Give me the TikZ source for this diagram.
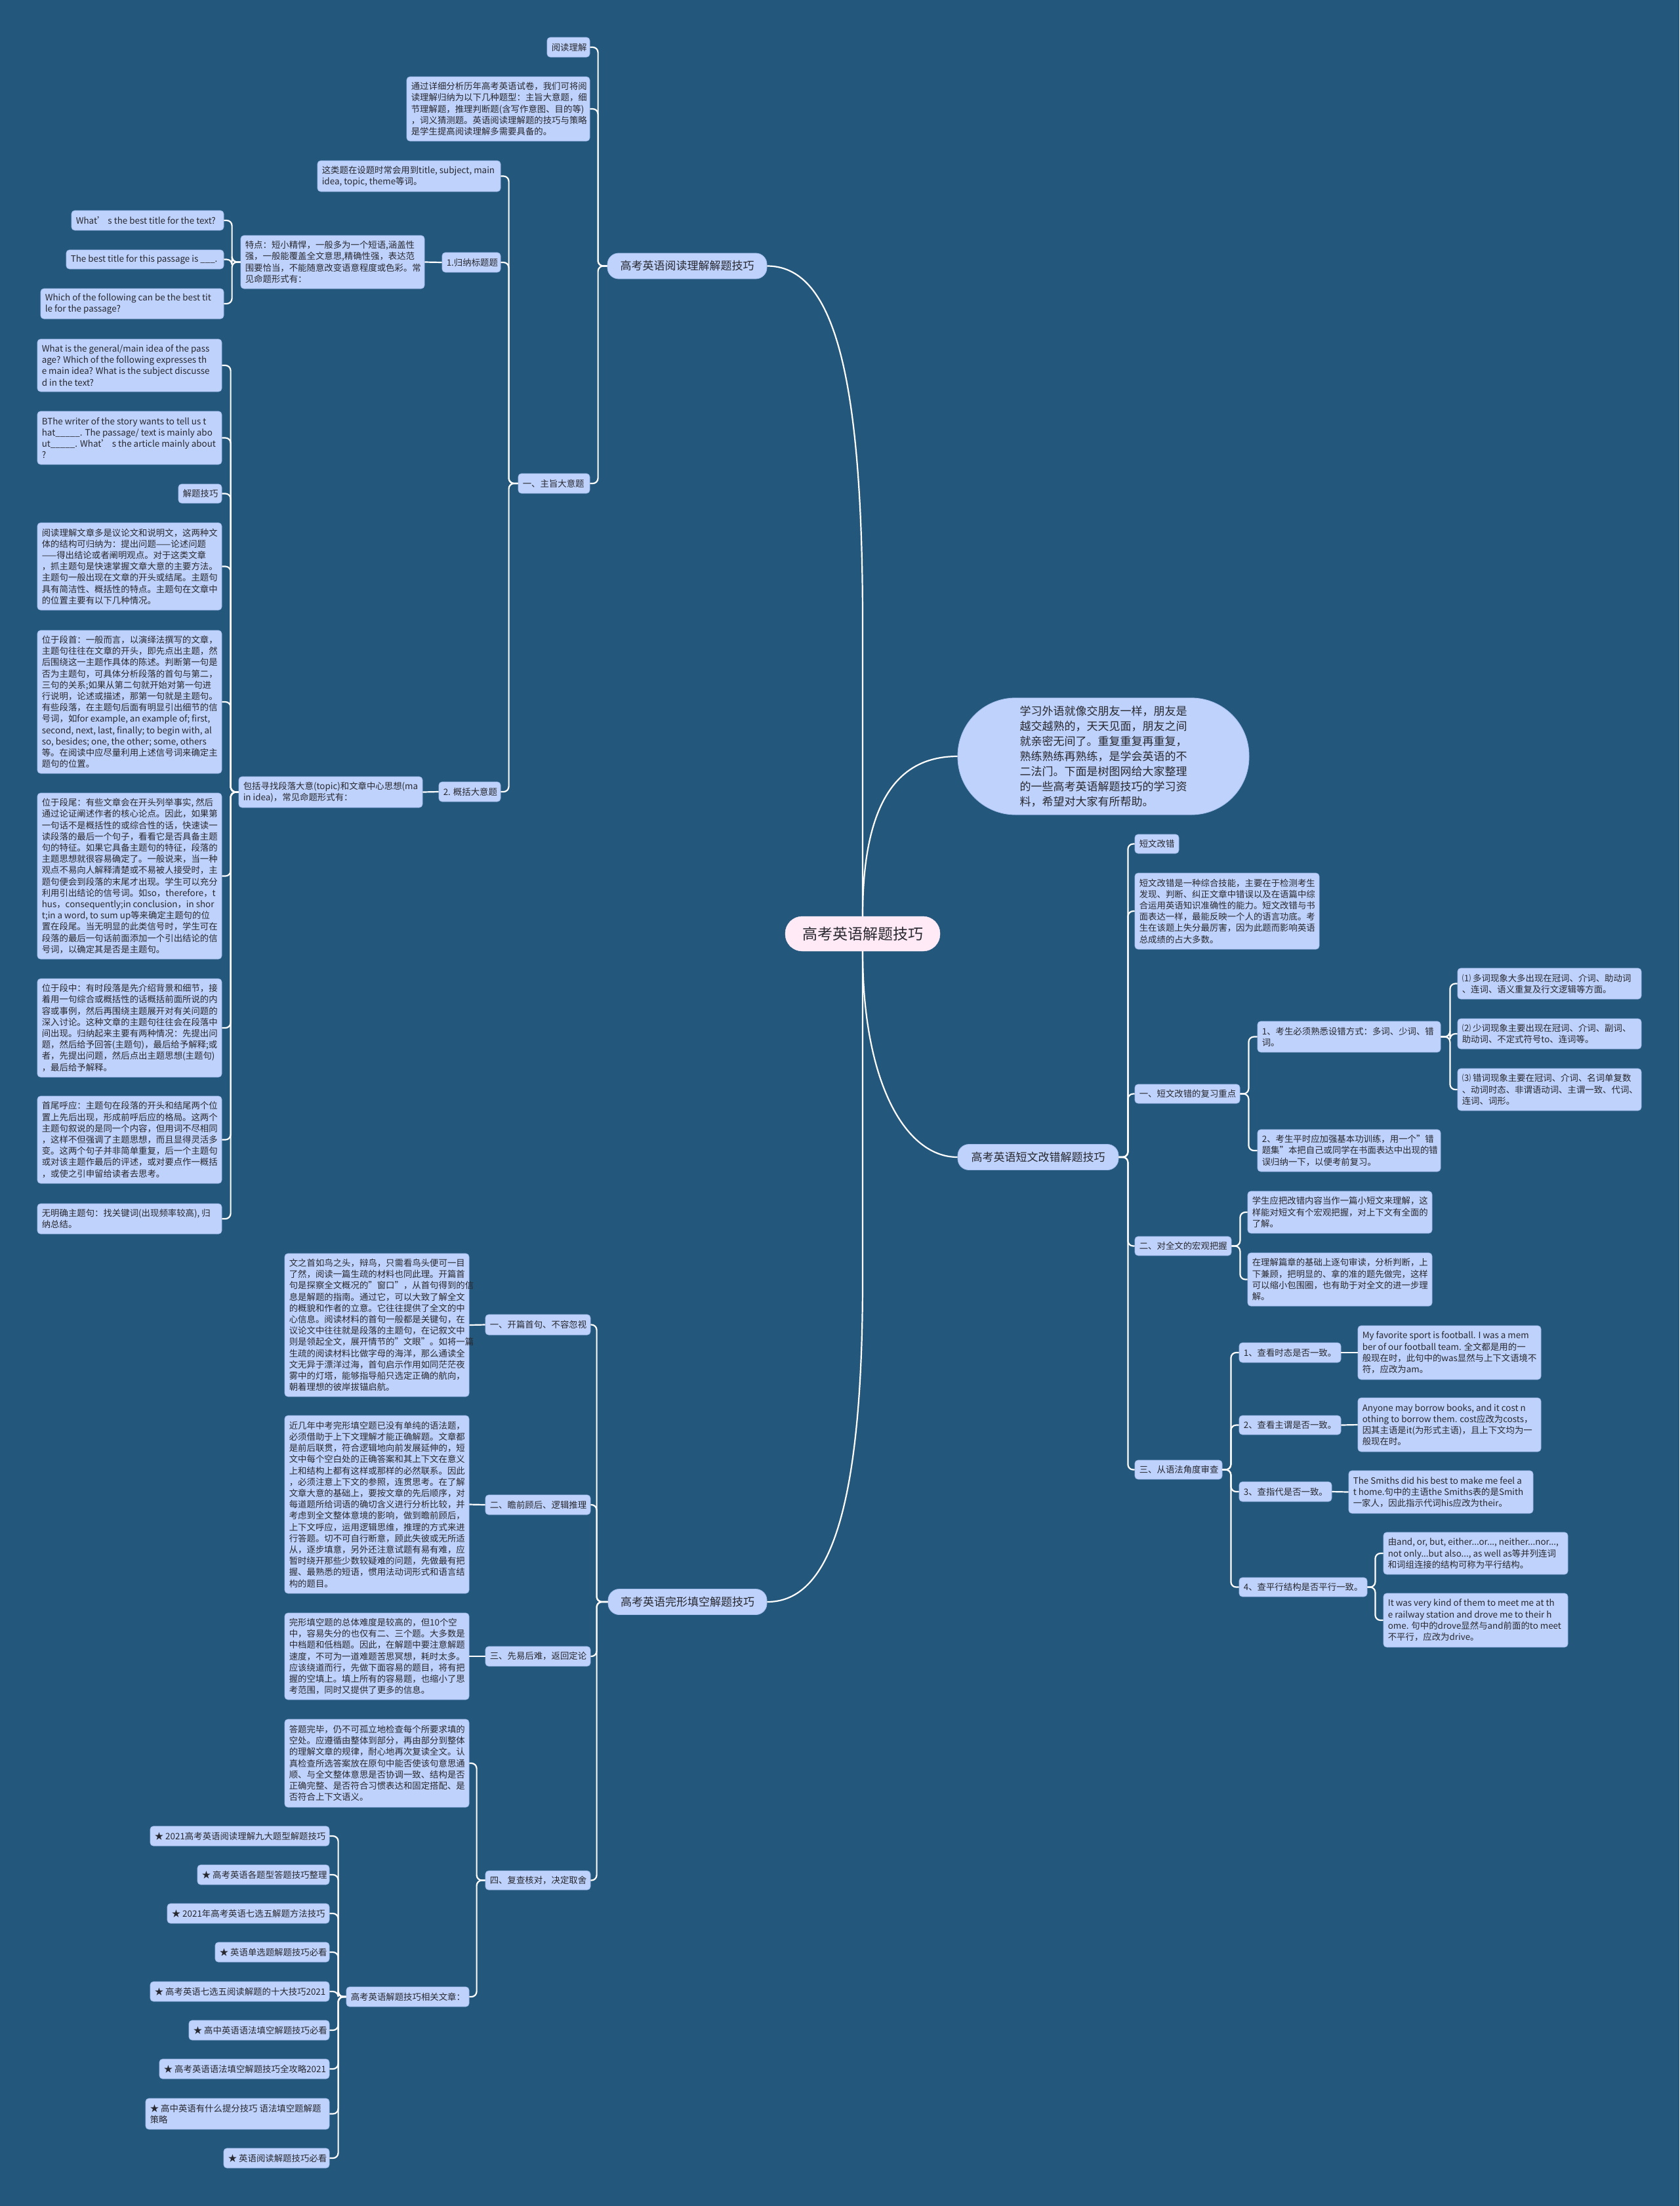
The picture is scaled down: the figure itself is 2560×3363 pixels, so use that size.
\documentclass[tikz,border=0pt]{standalone}
\usepackage{fontspec}
\setmainfont{Noto Sans CJK SC}
\definecolor{bgcol}{RGB}{35,88,124}
\definecolor{boxfill}{RGB}{190,210,251}
\definecolor{boxline}{RGB}{165,190,238}
\definecolor{textcol}{RGB}{40,40,48}
\definecolor{rootfill}{RGB}{255,234,246}
\newcommand\myfs{\fontsize{13.4}{17.2}\selectfont}
\newcommand\myfm{\fontsize{17}{23}\selectfont}
\newcommand\myfl{\fontsize{23}{28}\selectfont}
\tikzset{
  box/.style={draw=boxline,line width=0.8pt,fill=boxfill,rounded corners=5pt,inner sep=0pt},
  txt/.style={inner sep=0pt,align=left,font=\myfs,text=textcol},
  mainnode/.style={draw=boxline,line width=0.8pt,fill=boxfill,rounded corners=17pt,inner sep=0pt,minimum height=39pt,font=\myfm,text=textcol},
  rootnode/.style={draw=rootfill,fill=rootfill,rounded corners=26pt,inner sep=0pt,minimum width=236pt,minimum height=53pt,font=\myfl,text=textcol},
  ellnode/.style={draw=boxline,line width=0.8pt,fill=boxfill,rounded corners=88pt,inner sep=0pt,minimum width=444pt,minimum height=178pt,font=\myfm,text=textcol,align=left},
  conn/.style={draw=white,line width=2.2pt,rounded corners=8pt},
  conn0/.style={draw=white,line width=2.2pt},
}
\newcommand\bx[6]{%
  \node[box,minimum width={#4-#2},minimum height={#5-#3}] (#1) at ({(#2+#4)/2},{(#3+#5)/2}) {};
  \node[txt,anchor=west] (#1-t) at ([xshift=7pt]#1.west) {#6};}
\begin{document}
\begin{tikzpicture}[x=1pt,y=-1pt]
\fill[bgcol] (0,0) rectangle (2560,3363);
\useasboundingbox (0,0) rectangle (2560,3363);

% ---------- root and ellipse
\node[rootnode] (root) at (1315,1423.5) {高考英语解题技巧};
\node[ellnode] (ell) at (1682,1153) {学习外语就像交朋友一样，朋友是\\越交越熟的，天天见面，朋友之间\\就亲密无间了。重复重复再重复，\\熟练熟练再熟练，是学会英语的不\\二法门。下面是树图网给大家整理\\的一些高考英语解题技巧的学习资\\料，希望对大家有所帮助。};

% ---------- reading branch
\node[mainnode,minimum width=243pt] (read) at (1047.5,405.5) {高考英语阅读理解解题技巧};
\bx{rd1}{834}{57}{899}{87}{阅读理解}
\bx{rd2}{620}{117}{899}{215}{通过详细分析历年高考英语试卷，我们可将阅\\读理解归纳为以下几种题型：主旨大意题，细\\节理解题，推理判断题(含写作意图、目的等)\\，词义猜测题。英语阅读理解题的技巧与策略\\是学生提高阅读理解多需要具备的。}
\bx{zz}{790}{722}{899}{752}{一、主旨大意题}
\bx{zz1}{484}{245}{763}{292}{这类题在设题时常会用到title, subject, main\\idea, topic, theme等词。}
\bx{gn}{674}{385}{763}{415}{1.归纳标题题}
\bx{td}{367}{359}{647}{440}{特点：短小精悍，一般多为一个短语,涵盖性\\强，一般能覆盖全文意思,精确性强，表达范\\围要恰当，不能随意改变语意程度或色彩。常\\见命题形式有：}
\bx{q1}{109}{321}{341}{351}{What’ s the best title for the text?}
\bx{q2}{101}{381}{341}{410}{The best title for this passage is \_\_\_.}
\bx{q3}{62}{440}{341}{486}{Which of the following can be the best tit\\le for the passage?}
\bx{gk}{669}{1192}{763}{1222}{2. 概括大意题}
\bx{bk}{364}{1184}{644}{1231}{包括寻找段落大意(topic)和文章中心思想(ma\\in idea)，常见命题形式有：}
\bx{g1}{57}{517}{338}{597}{What is the general/main idea of the pass\\age? Which of the following expresses th\\e main idea? What is the subject discusse\\d in the text?}
\bx{g2}{57}{627}{338}{708}{BThe writer of the story wants to tell us t\\hat\_\_\_\_\_. The passage/ text is mainly abo\\ut\_\_\_\_\_. What’ s the article mainly about\\?}
\bx{g3}{272}{738}{338}{767}{解题技巧}
\bx{g4}{57}{797}{338}{930}{阅读理解文章多是议论文和说明文，这两种文\\体的结构可归纳为：提出问题——论述问题\\——得出结论或者阐明观点。对于这类文章\\，抓主题句是快速掌握文章大意的主要方法。\\主题句一般出现在文章的开头或结尾。主题句\\具有简洁性、概括性的特点。主题句在文章中\\的位置主要有以下几种情况。}
\bx{g5}{57}{961}{338}{1179}{位于段首：一般而言，以演绎法撰写的文章，\\主题句往往在文章的开头，即先点出主题，然\\后围绕这一主题作具体的陈述。判断第一句是\\否为主题句，可具体分析段落的首句与第二，\\三句的关系;如果从第二句就开始对第一句进\\行说明，论述或描述，那第一句就是主题句。\\有些段落，在主题句后面有明显引出细节的信\\号词，如for example, an example of; first,\\second, next, last, finally; to begin with, al\\so, besides; one, the other; some, others\\等。在阅读中应尽量利用上述信号词来确定主\\题句的位置。}
\bx{g6}{57}{1209}{338}{1462}{位于段尾：有些文章会在开头列举事实, 然后\\通过论证阐述作者的核心论点。因此，如果第\\一句话不是概括性的或综合性的话，快速读一\\读段落的最后一个句子，看看它是否具备主题\\句的特征。如果它具备主题句的特征，段落的\\主题思想就很容易确定了。一般说来，当一种\\观点不易向人解释清楚或不易被人接受时，主\\题句便会到段落的末尾才出现。学生可以充分\\利用引出结论的信号词。如so，therefore，t\\hus，consequently;in conclusion，in shor\\t;in a word, to sum up等来确定主题句的位\\置在段尾。当无明显的此类信号时，学生可在\\段落的最后一句话前面添加一个引出结论的信\\号词，以确定其是否是主题句。}
\bx{g7}{57}{1492}{338}{1642}{位于段中：有时段落是先介绍背景和细节，接\\着用一句综合或概括性的话概括前面所说的内\\容或事例，然后再围绕主题展开对有关问题的\\深入讨论。这种文章的主题句往往会在段落中\\间出现。归纳起来主要有两种情况：先提出问\\题，然后给予回答(主题句)，最后给予解释;或\\者，先提出问题，然后点出主题思想(主题句)\\，最后给予解释。}
\bx{g8}{57}{1671}{338}{1804}{首尾呼应：主题句在段落的开头和结尾两个位\\置上先后出现，形成前呼后应的格局。这两个\\主题句叙说的是同一个内容，但用词不尽相同\\，这样不但强调了主题思想，而且显得灵活多\\变。这两个句子并非简单重复，后一个主题句\\或对该主题作最后的评述，或对要点作一概括\\，或使之引申留给读者去思考。}
\bx{g9}{57}{1835}{338}{1881}{无明确主题句：找关键词(出现频率较高), 归\\纳总结。}

% ---------- short passage branch
\node[mainnode,minimum width=245pt] (dw) at (1582.5,1764) {高考英语短文改错解题技巧};
\bx{dw1}{1730}{1272}{1797}{1301}{短文改错}
\bx{dw2}{1730}{1331}{2011}{1447}{短文改错是一种综合技能，主要在于检测考生\\发现、判断、纠正文章中错误以及在语篇中综\\合运用英语知识准确性的能力。短文改错与书\\面表达一样，最能反映一个人的语言功底。考\\生在该题上失分最厉害，因为此题而影响英语\\总成绩的占大多数。}
\bx{fx}{1730}{1653}{1890}{1682}{一、短文改错的复习重点}
\bx{hg}{1730}{1885}{1877}{1914}{二、对全文的宏观把握}
\bx{yf}{1730}{2226}{1863}{2255}{三、从语法角度审查}
\bx{fx1}{1917}{1557}{2196}{1604}{1、考生必须熟悉设错方式：多词、少词、错\\词。}
\bx{fx2}{1917}{1722}{2196}{1786}{2、考生平时应加强基本功训练，用一个"错\\题集"本把自己或同学在书面表达中出现的错\\误归纳一下，以便考前复习。}
\bx{c1}{2222}{1476}{2502}{1523}{⑴ 多词现象大多出现在冠词、介词、助动词\\、连词、语义重复及行文逻辑等方面。}
\bx{c2}{2222}{1553}{2502}{1599}{⑵ 少词现象主要出现在冠词、介词、副词、\\助动词、不定式符号to、连词等。}
\bx{c3}{2222}{1629}{2502}{1693}{⑶ 错词现象主要在冠词、介词、名词单复数\\、动词时态、非谓语动词、主谓一致、代词、\\连词、词形。}
\bx{hg1}{1902}{1816}{2183}{1880}{学生应把改错内容当作一篇小短文来理解，这\\样能对短文有个宏观把握，对上下文有全面的\\了解。}
\bx{hg2}{1902}{1910}{2183}{1991}{在理解篇章的基础上逐句审读，分析判断，上\\下兼顾，把明显的、拿的准的题先做完，这样\\可以缩小包围圈，也有助于对全文的进一步理\\解。}
\bx{y1}{1889}{2047}{2044}{2077}{1、查看时态是否一致。}
\bx{y2}{1889}{2158}{2044}{2187}{2、查看主谓是否一致。}
\bx{y3}{1889}{2259}{2030}{2289}{3、查指代是否一致。}
\bx{y4}{1889}{2405}{2084}{2434}{4、查平行结构是否平行一致。}
\bx{y1a}{2070}{2021}{2349}{2103}{My favorite sport is football. I was a mem\\ber of our football team. 全文都是用的一\\般现在时，此句中的was显然与上下文语境不\\符，应改为am。}
\bx{y2a}{2070}{2131}{2349}{2213}{Anyone may borrow books, and it cost n\\othing to borrow them. cost应改为costs，\\因其主语是it(为形式主语)，且上下文均为一\\般现在时。}
\bx{y3a}{2056}{2242}{2337}{2307}{The Smiths did his best to make me feel a\\t home.句中的主语the Smiths表的是Smith\\一家人，因此指示代词his应改为their。}
\bx{y4a}{2109}{2336}{2390}{2400}{由and, or, but, either...or..., neither...nor...,\\not only...but also..., as well as等并列连词\\和词组连接的结构可称为平行结构。}
\bx{y4b}{2109}{2429}{2390}{2511}{It was very kind of them to meet me at th\\e railway station and drove me to their h\\ome. 句中的drove显然与and前面的to meet\\不平行，应改为drive。}

% ---------- cloze branch
\node[mainnode,minimum width=242pt] (wx) at (1048,2442) {高考英语完形填空解题技巧};
\bx{w1}{740}{2004}{900}{2035}{一、开篇首句、不容忽视}
\bx{w2}{740}{2279}{900}{2309}{二、瞻前顾后、逻辑推理}
\bx{w3}{740}{2510}{900}{2540}{三、先易后难，返回定论}
\bx{w4}{740}{2852}{900}{2881}{四、复查核对，决定取舍}
\bx{w1a}{434}{1911}{715}{2129}{文之首如鸟之头，辩鸟，只需看鸟头便可一目\\了然，阅读一篇生疏的材料也同此理。开篇首\\句是探察全文概况的"窗口"，从首句得到的信\\息是解题的指南。通过它，可以大致了解全文\\的概貌和作者的立意。它往往提供了全文的中\\心信息。阅读材料的首句一般都是关键句，在\\议论文中往往就是段落的主题句，在记叙文中\\则是领起全文，展开情节的"文眼"。如将一篇\\生疏的阅读材料比做字母的海洋，那么通读全\\文无异于漂洋过海，首句启示作用如同茫茫夜\\雾中的灯塔，能够指导船只选定正确的航向，\\朝着理想的彼岸拔锚启航。}
\bx{w2a}{434}{2158}{715}{2429}{近几年中考完形填空题已没有单纯的语法题，\\必须借助于上下文理解才能正确解题。文章都\\是前后联贯，符合逻辑地向前发展延伸的，短\\文中每个空白处的正确答案和其上下文在意义\\上和结构上都有这样或那样的必然联系。因此\\，必须注意上下文的参照，连贯思考。在了解\\文章大意的基础上，要按文章的先后顺序，对\\每道题所给词语的确切含义进行分析比较，并\\考虑到全文整体意境的影响，做到瞻前顾后，\\上下文呼应，运用逻辑思维，推理的方式来进\\行答题。切不可自行断意，顾此失彼或无所适\\从，逐步填意，另外还注意试题有易有难，应\\暂时绕开那些少数较疑难的问题，先做最有把\\握、最熟悉的短语，惯用法动词形式和语言结\\构的题目。}
\bx{w3a}{434}{2459}{715}{2591}{完形填空题的总体难度是较高的，但10个空\\中，容易失分的也仅有二、三个题。大多数是\\中档题和低档题。因此，在解题中要注意解题\\速度，不可为一道难题苦思冥想，耗时太多。\\应该绕道而行，先做下面容易的题目，将有把\\握的空填上。填上所有的容易题，也缩小了思\\考范围，同时又提供了更多的信息。}
\bx{w4a}{434}{2621}{715}{2755}{答题完毕，仍不可孤立地检查每个所要求填的\\空处。应遵循由整体到部分，再由部分到整体\\的理解文章的规律，耐心地再次复读全文。认\\真检查所选答案放在原句中能否使该句意思通\\顺、与全文整体意思是否协调一致、结构是否\\正确完整、是否符合习惯表达和固定搭配、是\\否符合上下文语义。}
\bx{xg}{528}{3029}{715}{3059}{高考英语解题技巧相关文章：}
\bx{a1}{229}{2784}{502}{2814}{★ 2021高考英语阅读理解九大题型解题技巧}
\bx{a2}{301}{2843}{502}{2873}{★ 高考英语各题型答题技巧整理}
\bx{a3}{255}{2902}{502}{2932}{★ 2021年高考英语七选五解题方法技巧}
\bx{a4}{328}{2961}{502}{2991}{★ 英语单选题解题技巧必看}
\bx{a5}{229}{3021}{502}{3051}{★ 高考英语七选五阅读解题的十大技巧2021}
\bx{a6}{288}{3080}{502}{3110}{★ 高中英语语法填空解题技巧必看}
\bx{a7}{243}{3139}{502}{3169}{★ 高考英语语法填空解题技巧全攻略2021}
\bx{a8}{222}{3199}{502}{3246}{★ 高中英语有什么提分技巧 语法填空题解题\\策略}
\bx{a9}{341}{3275}{502}{3305}{★ 英语阅读解题技巧必看}

% ---------- connectors
\draw[conn0] (read.east) .. controls (1268,405.5) and (1315,560) .. (1315,950) -- (root.north);
\draw[conn0] (root.north) .. controls (1315,1220) and (1370,1153) .. (ell.west);
\draw[conn0] (root.south) .. controls (1315,1650) and (1380,1764) .. (dw.west);
\draw[conn0] (root.south) -- (1315,1950) .. controls (1315,2330) and (1255,2442) .. (wx.east);

\foreach \nd in {rd1,rd2,zz} \draw[conn] (read.west) -- ++(-14,0) |- (\nd.east);
\foreach \nd in {zz1,gn,gk} \draw[conn] (zz.west) -- ++(-14,0) |- (\nd.east);
\draw[conn] (gn.west) -- (td.east);
\foreach \nd in {q1,q2,q3} \draw[conn] (td.west) -- ++(-13,0) |- (\nd.east);
\draw[conn] (gk.west) -- (bk.east);
\foreach \nd in {g1,g2,g3,g4,g5,g6,g7,g8,g9} \draw[conn] (bk.west) -- ++(-12,0) |- (\nd.east);

\foreach \nd in {dw1,dw2,fx,hg,yf} \draw[conn] (dw.east) -- ++(14,0) |- (\nd.west);
\foreach \nd in {fx1,fx2} \draw[conn] (fx.east) -- ++(13,0) |- (\nd.west);
\foreach \nd in {c1,c2,c3} \draw[conn] (fx1.east) -- ++(14,0) |- (\nd.west);
\foreach \nd in {hg1,hg2} \draw[conn] (hg.east) -- ++(13,0) |- (\nd.west);
\foreach \nd in {y1,y2,y3,y4} \draw[conn] (yf.east) -- ++(13,0) |- (\nd.west);
\draw[conn] (y1.east) -- (y1a.west);
\draw[conn] (y2.east) -- (y2a.west);
\draw[conn] (y3.east) -- (y3a.west);
\foreach \nd in {y4a,y4b} \draw[conn] (y4.east) -- ++(12,0) |- (\nd.west);

\foreach \nd in {w1,w2,w3,w4} \draw[conn] (wx.west) -- ++(-17,0) |- (\nd.east);
\draw[conn] (w1.west) -- (w1a.east);
\draw[conn] (w2.west) -- (w2a.east);
\draw[conn] (w3.west) -- (w3a.east);
\foreach \nd in {w4a,xg} \draw[conn] (w4.west) -- ++(-13,0) |- (\nd.east);
\foreach \nd in {a1,a2,a3,a4,a5,a6,a7,a8,a9} \draw[conn] (xg.west) -- ++(-12,0) |- (\nd.east);
\end{tikzpicture}
\end{document}
